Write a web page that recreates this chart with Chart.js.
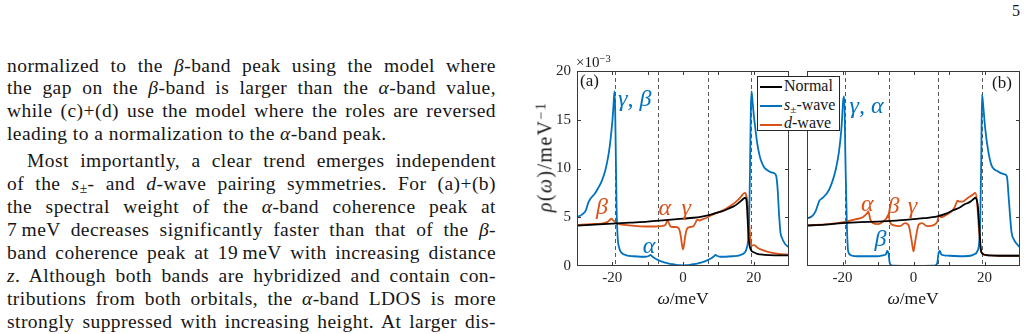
<!DOCTYPE html>
<html><head><meta charset="utf-8">
<script src="https://cdn.jsdelivr.net/npm/chart.js@4.4.0/dist/chart.umd.min.js"></script>
<style>
html,body{margin:0;padding:0;background:#fff;}
body{width:1029px;height:334px;overflow:hidden;position:relative;font-family:"Liberation Serif",serif;color:#161616;}
.abs{position:absolute;white-space:nowrap;}
.para{position:absolute;left:7px;width:489px;font-size:19.5px;line-height:22.9px;letter-spacing:0.45px;}
.para div{text-align:justify;text-align-last:justify;}
.para div.last{text-align:left;text-align-last:left;}
.sub{font-size:0.7em;vertical-align:-0.25em;line-height:0;}
.sup{font-size:0.7em;vertical-align:0.45em;line-height:0;}
#legend{position:absolute;left:757px;top:76px;width:83px;height:55px;border:1px solid #262626;background:#fff;z-index:10;font-size:16px;box-sizing:border-box;}
#legend .row{position:absolute;left:2px;height:18px;line-height:18px;white-space:nowrap;}
#legend .sw{display:inline-block;width:22px;height:2px;vertical-align:middle;margin-right:2px;}
canvas{position:absolute;}
</style>
</head><body>

<div class="abs" style="left:1012px;top:2px;font-size:16px;">5</div>

<div class="para" style="top:54.5px;">
<div>normalized to the <i>β</i>-band peak using the model where</div>
<div>the gap on the <i>β</i>-band is larger than the <i>α</i>-band value,</div>
<div>while (c)+(d) use the model where the roles are reversed</div>
<div class="last">leading to a normalization to the <i>α</i>-band peak.</div>
</div>
<div class="para" style="top:150.2px;">
<div style="padding-left:20px;">Most importantly, a clear trend emerges independent</div>
<div>of the <i>s</i><span class="sub">±</span>- and <i>d</i>-wave pairing symmetries. For (a)+(b)</div>
<div>the spectral weight of the <i>α</i>-band coherence peak at</div>
<div>7&#8201;meV decreases significantly faster than that of the <i>β</i>-</div>
<div>band coherence peak at 19&#8201;meV with increasing distance</div>
<div><i>z</i>. Although both bands are hybridized and contain con-</div>
<div>tributions from both orbitals, the <i>α</i>-band LDOS is more</div>
<div>strongly suppressed with increasing height. At larger dis-</div>
</div>

<canvas id="cb" width="227" height="235" style="left:800px;top:55px;"></canvas>
<canvas id="ca" width="270" height="235" style="left:527px;top:55px;"></canvas>

<div class="abs" style="left:576px;top:54px;font-size:15px;line-height:16px;">×10<span class="sup">−3</span></div>
<div class="abs" style="left:580px;top:71px;font-size:17px;">(a)</div>
<div class="abs" style="left:992px;top:73px;font-size:17px;">(b)</div>
<div class="abs" style="left:545px;top:157px;font-size:20px;letter-spacing:1.4px;transform:translate(-50%,-50%) rotate(-90deg);"><i>ρ</i>(<i>ω</i>)/meV<span class="sup">−1</span></div>
<div class="abs" style="left:683px;top:298px;font-size:17.5px;transform:translate(-50%,-50%);"><i>ω</i>/meV</div>
<div class="abs" style="left:913px;top:298px;font-size:17.5px;transform:translate(-50%,-50%);"><i>ω</i>/meV</div>

<div id="legend"></div>

<script>
// ---------- data (values in units of 1e-3 meV^-1) ----------
const xTickValues = [-20, 0, 20];
const yTickValues = [0, 5, 10, 15, 20];
const gapLines = [-19.3, -7, 7, 19.3];
const seriesNames = ['Normal', 's±-wave', 'd-wave'];

// Panel (a)
const omegaA_normal = [-30,-25,-20,-15,-10,-5,0,3,5,7,9,11,13,14.5,15.5,16.5,17.3,17.7,18.0,18.2,18.4,18.6,18.9,19.3,20,21,23,26,30];
const rhoA_normal   = [4.15,4.25,4.35,4.45,4.55,4.7,4.85,4.95,5.05,5.2,5.4,5.6,5.9,6.15,6.4,6.7,6.95,7.0,6.6,5.5,4.0,2.8,2.0,1.6,1.4,1.25,1.15,1.1,1.1];

const omegaA_s = [-30,-28.5,-27.5,-26.8,-26.2,-25,-24,-23,-22,-21.5,-21,-20.5,-20,-19.7,-19.4,-19.2,-19.0,-18.8,-18.5,-18.0,-17.5,-16,-14,-12,-10.5,-9.6,-9.2,-8.8,-8,-7,-6,-5,-4,-3,-2,-1,0,1,2,3,4,5,6,7,8,8.8,9.2,9.6,10.5,12,14,16,17.5,18,18.5,18.8,19.0,19.2,19.4,19.7,20,20.5,21,21.5,22,23,24,25,25.9,26.4,26.8,27.2,27.6,28,28.5,29,30];
const rhoA_s   = [5.0,5.3,5.7,6.5,6.9,7.4,8.0,8.7,9.8,10.6,11.6,13.0,14.8,16.3,17.9,16,11,6,3,1.8,1.4,1.1,1.0,0.95,0.95,1.05,1.15,1.0,0.8,0.6,0.45,0.35,0.25,0.18,0.12,0.08,0.07,0.08,0.12,0.18,0.25,0.35,0.45,0.6,0.8,1.0,1.15,1.05,0.95,0.95,1.0,1.1,1.4,1.8,3,6,11,16,17.9,16.8,15.6,14.0,12.6,11.6,10.9,10.1,9.8,9.6,9.5,9.2,7.8,5.2,3.4,2.9,2.5,2.2,1.9];

const omegaA_d = [-30,-26,-23,-21.5,-20.8,-20.3,-19.8,-19.2,-18,-16,-13,-10,-8,-6,-5,-4.7,-4.3,-3.9,-3.5,-3,-2,-1.5,-1,-0.6,-0.3,0,0.3,0.6,1,1.5,2,3,3.5,3.9,4.3,4.7,5,6,7,8,10,12,14,15.5,16.5,17.2,17.6,18.0,18.4,18.8,19.2,19.7,20.2,21,22,24,27,30];
const rhoA_d   = [4.2,4.3,4.35,4.5,4.7,4.85,4.7,4.5,4.3,4.2,4.1,4.05,4.05,4.1,4.2,4.45,4.65,4.3,4.05,4.0,4.0,3.95,3.7,3.0,2.2,1.7,2.2,3.0,3.7,3.95,4.0,4.1,4.4,4.7,4.75,4.65,4.7,4.85,5.0,5.2,5.5,5.85,6.3,6.75,7.15,7.45,7.5,7.1,6.0,4.0,2.4,2.1,2.15,1.9,1.7,1.45,1.25,1.15];

// Panel (b)
const omegaB_normal = [-30,-25,-20,-15,-10,-5,0,3,6.7,9,11.4,13,14.3,15.5,16.2,17.0,17.4,17.8,18.1,18.4,18.7,19.0,19.4,20,21,24,30];
const rhoB_normal   = [4.15,4.25,4.4,4.5,4.55,4.65,4.8,4.9,5.1,5.35,5.75,6.0,6.3,6.5,6.65,6.9,7.0,6.8,6.2,4.8,3.0,1.6,1.3,1.15,1.1,1.05,1.05];

const omegaB_s = [-30,-28.6,-27.6,-26.5,-25.7,-23.8,-21.9,-21,-20.3,-19.8,-19.5,-19.2,-18.8,-18.4,-17.6,-16,-13,-10,-8.6,-7.8,-7.4,-7.0,-6.7,-6.2,-5.5,-3,0,3,5.5,6.2,6.7,7.0,7.4,7.8,8.6,10,13,16,17.1,18.1,18.8,19.1,19.3,19.7,20.2,21,21.9,23.8,25.7,26.3,26.9,27.6,28.3,29,30];
const rhoB_s   = [4.9,5.1,5.6,6.7,6.95,7.8,9.9,11.7,14.1,17.0,17.4,11.4,4.6,1.5,1.1,1.0,1.0,1.0,1.1,1.2,1.55,1.2,0.3,0.07,0.03,0.02,0.02,0.02,0.03,0.07,0.3,1.2,1.55,1.2,1.1,1.05,1.0,1.05,1.2,1.6,4.6,11.4,17.6,16.2,14.1,11.9,10.4,9.7,9.4,9.2,6.6,3.5,2.7,2.3,1.9];

const omegaB_d = [-30,-23.8,-19,-16.2,-14.3,-13.1,-12.7,-12.2,-11.4,-10,-8.6,-7.6,-7.0,-6.7,-5.7,-3.8,-2.4,-1.4,-0.8,-0.4,0,0.4,0.8,1.4,2.4,3.8,5.7,6.7,7.2,7.8,9.5,11.4,12.0,12.4,13,13.8,15.2,16.7,17.4,17.9,18.4,18.9,19.5,21,25,30];
const rhoB_d   = [4.2,4.3,4.55,4.8,5.0,5.4,5.6,4.8,4.4,4.3,4.55,4.9,5.3,4.55,4.2,4.1,4.4,4.2,3.2,2.3,1.5,2.3,3.2,4.2,4.4,4.1,4.2,4.55,5.2,5.0,5.3,5.9,6.4,6.7,6.6,6.6,6.95,7.3,7.5,6.6,3.9,1.8,1.2,1.1,1.05,1.05];

// annotation labels [text, omega, rho(baseline), colour]
const BLUE = '#0072BD', RED = '#D95319', BLACK = '#000000';
const notesA = [['γ, β', -18.4, 16.4, BLUE], ['β', -24.6, 5.3, RED], ['α', -6.9, 5.2, RED], ['γ', -0.4, 5.2, RED], ['α', -11.4, 1.3, BLUE]];
const notesB = [['γ, α', -18.0, 15.7, BLUE], ['α', -14.8, 5.6, RED], ['β', -7.3, 5.4, RED], ['γ', -1.6, 5.4, RED], ['β', -11.0, 2.1, BLUE]];

// ---------- helpers ----------
const FONT = '"Liberation Serif", serif';
const AXIS = '#3a3a3a';
function pts(xs, ys) { return xs.map((x, i) => ({x: x, y: ys[i]})); }

const framePlugin = {
  id: 'frame',
  beforeDatasetsDraw(chart) {
    const {ctx, chartArea: a, scales: {x}} = chart;
    ctx.save();
    ctx.strokeStyle = '#5a5a5a'; ctx.lineWidth = 1; ctx.setLineDash([4, 3]);
    gapLines.forEach(v => {
      const px = Math.round(x.getPixelForValue(v)) + 0.5;
      ctx.beginPath(); ctx.moveTo(px, a.top); ctx.lineTo(px, a.bottom); ctx.stroke();
    });
    ctx.restore();
  },
  afterDatasetsDraw(chart, args, opts) {
    const {ctx, scales: {x, y}} = chart;
    ctx.save();
    ctx.font = 'italic 24px ' + FONT;
    ctx.textBaseline = 'alphabetic'; ctx.textAlign = 'left';
    (opts.notes || []).forEach(n => {
      ctx.fillStyle = n[3];
      ctx.fillText(n[0], x.getPixelForValue(n[1]), y.getPixelForValue(n[2]));
    });
    ctx.restore();
  },
  afterDraw(chart) {
    const {ctx, chartArea: a, scales: {x, y}} = chart;
    ctx.save();
    ctx.strokeStyle = AXIS; ctx.lineWidth = 1; ctx.setLineDash([]);
    const L = Math.round(a.left) + 0.5, R = Math.round(a.right) - 0.5, T = Math.round(a.top) + 0.5, B = Math.round(a.bottom) - 0.5;
    ctx.strokeRect(L, T, R - L, B - T);
    const tl = 3.5;
    ctx.beginPath();
    x.ticks.forEach(t => {
      const px = Math.round(x.getPixelForValue(t.value)) + 0.5;
      if (px <= L + 1 || px >= R - 1) return;
      ctx.moveTo(px, B); ctx.lineTo(px, B - tl);
      ctx.moveTo(px, T); ctx.lineTo(px, T + tl);
    });
    y.ticks.forEach(t => {
      const py = Math.round(y.getPixelForValue(t.value)) + 0.5;
      if (py <= T + 1 || py >= B - 1) return;
      ctx.moveTo(L, py); ctx.lineTo(L + tl, py);
      ctx.moveTo(R, py); ctx.lineTo(R - tl, py);
    });
    ctx.stroke();
    ctx.restore();
  }
};

function makeChart(id, normal, swave, dwave, notes, showY, yWidth, padRight) {
  return new Chart(document.getElementById(id), {
    type: 'line',
    data: {
      datasets: [
        {label: seriesNames[0], data: normal, borderColor: BLACK},
        {label: seriesNames[1], data: swave, borderColor: BLUE},
        {label: seriesNames[2], data: dwave, borderColor: RED}
      ]
    },
    options: {
      responsive: false, animation: false, devicePixelRatio: 1,
      parsing: false,
      layout: {padding: {top: 16, right: padRight, left: 0, bottom: 0}},
      elements: {point: {radius: 0}, line: {borderWidth: 1.8, cubicInterpolationMode: 'monotone', fill: false}},
      plugins: {legend: {display: false}, tooltip: {enabled: false}, frame: {notes: notes}},
      scales: {
        x: {
          type: 'linear', min: -30, max: 30,
          grid: {display: false, drawTicks: false}, border: {display: false},
          ticks: {
            stepSize: 10, autoSkip: false, maxRotation: 0, padding: 3,
            color: '#262626', font: {family: FONT, size: 15},
            callback: v => (xTickValues.includes(v) ? String(v) : '')
          },
          afterFit: s => { s.height = 24; }
        },
        y: {
          type: 'linear', min: 0, max: 20,
          grid: {display: false, drawTicks: false}, border: {display: false},
          ticks: {
            display: showY, stepSize: 5, padding: 6,
            color: '#262626', font: {family: FONT, size: 15},
            callback: v => (yTickValues.includes(v) ? String(v) : '')
          },
          afterFit: s => { s.width = yWidth; }
        }
      }
    },
    plugins: [framePlugin]
  });
}

makeChart('ca', pts(omegaA_normal, rhoA_normal), pts(omegaA_s, rhoA_s), pts(omegaA_d, rhoA_d), notesA, true, 50, 8);
makeChart('cb', pts(omegaB_normal, rhoB_normal), pts(omegaB_s, rhoB_s), pts(omegaB_d, rhoB_d), notesB, false, 7, 7);

// legend built from series names / colours
const legendHTML = [
  [BLACK, 'Normal'],
  [BLUE, '<i>s</i><span class="sub">±</span>-wave'],
  [RED, '<i>d</i>-wave']
];
const lg = document.getElementById('legend');
legendHTML.forEach((e, i) => {
  const r = document.createElement('div');
  r.className = 'row';
  r.style.top = (i * 18.6) + 'px';
  r.innerHTML = '<span class="sw" style="background:' + e[0] + '"></span>' + e[1];
  lg.appendChild(r);
});
</script>
</body></html>
